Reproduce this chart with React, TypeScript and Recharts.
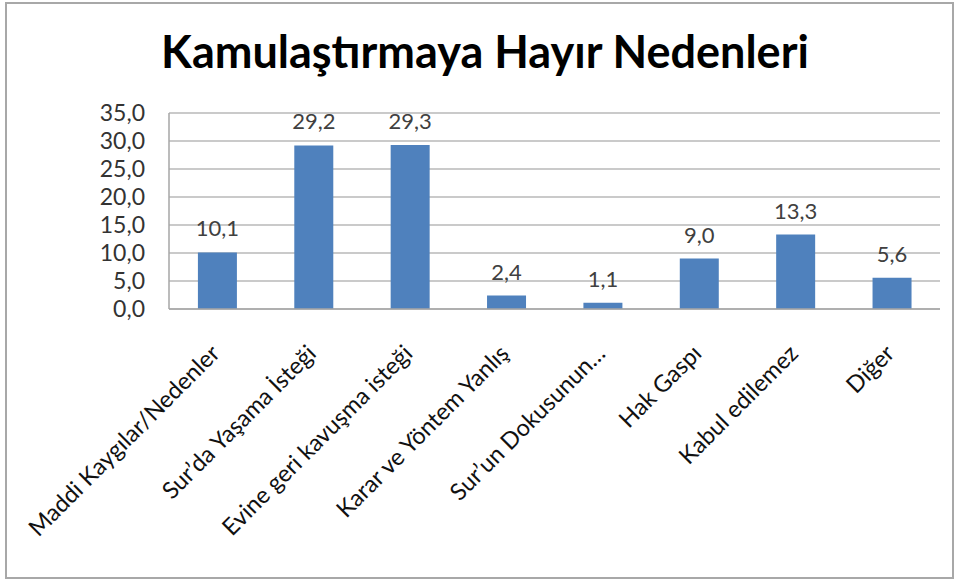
import React from 'react';
import {BarChart, Bar, XAxis, YAxis, CartesianGrid, LabelList} from 'recharts';

const categories = [
  'Maddi Kaygılar/Nedenler',
  'Sur’da Yaşama İsteği',
  'Evine geri kavuşma isteği',
  'Karar ve Yöntem Yanlış',
  'Sur’un Dokusunun…',
  'Hak Gaspı',
  'Kabul edilemez',
  'Diğer',
];
const values = [10.1, 29.2, 29.3, 2.4, 1.1, 9.0, 13.3, 5.6];
const yTicks = [0, 5, 10, 15, 20, 25, 30, 35];

const data = categories.map((name, i) => ({name, value: values[i]}));

const FONT = 'Lato, "Open Sans", sans-serif';
const fmt = (v: number) => v.toFixed(1).replace('.', ',');

const XTick = (props: any) => {
  const {x, y, payload} = props;
  return (
    <g transform={`translate(${x + 4},${y + 38})`}>
      <text
        transform="rotate(-45)"
        textAnchor="end"
        fontSize={23.5}
        fill="#111"
        fontFamily={FONT}
      >
        {payload.value}
      </text>
    </g>
  );
};

const YTick = (props: any) => {
  const {x, y, payload} = props;
  return (
    <text x={x} y={y} dy={8} textAnchor="end" fontSize={23} fill="#333" fontFamily={FONT}>
      {fmt(payload.value)}
    </text>
  );
};

const App: React.FC = () => {
  return (
    <div style={{position: 'absolute', left: 0, top: 0, width: 960, height: 581, background: '#fff'}}>
      <div
        style={{
          position: 'absolute',
          left: 5,
          top: 2,
          width: 945,
          height: 573,
          border: '2px solid #a8a8a8',
        }}
      />
      <div
        style={{
          position: 'absolute',
          top: 26,
          left: 0,
          width: 970,
          textAlign: 'center',
          fontFamily: FONT,
          fontWeight: 'bold',
          fontSize: 45,
          lineHeight: '50px',
          color: '#000',
        }}
      >
        Kamulaştırmaya Hayır Nedenleri
      </div>
      <div style={{position: 'absolute', left: 0, top: 0}}>
        <BarChart
          width={960}
          height={581}
          data={data}
          margin={{top: 113, right: 20, left: 90, bottom: 0}}
          barCategoryGap="30%"
        >
          <CartesianGrid vertical={false} stroke="#b8b8b8" strokeWidth={1.5} />
          <XAxis
            dataKey="name"
            interval={0}
            tick={<XTick />}
            tickLine={false}
            axisLine={{stroke: '#a6a6a6', strokeWidth: 1.5}}
            height={272}
          />
          <YAxis
            domain={[0, 35]}
            ticks={yTicks}
            width={79}
            tick={<YTick />}
            tickLine={false}
            tickSize={0}
            tickMargin={24}
            axisLine={{stroke: '#a6a6a6', strokeWidth: 1.5}}
          />
          <Bar dataKey="value" fill="#4f81bd" isAnimationActive={false}>
            <LabelList
              dataKey="value"
              position="top"
              offset={16}
              formatter={(v: any) => fmt(Number(v))}
              style={{fontSize: 22, fill: '#404040', fontFamily: FONT}}
            />
          </Bar>
        </BarChart>
      </div>
    </div>
  );
};

export default App;
